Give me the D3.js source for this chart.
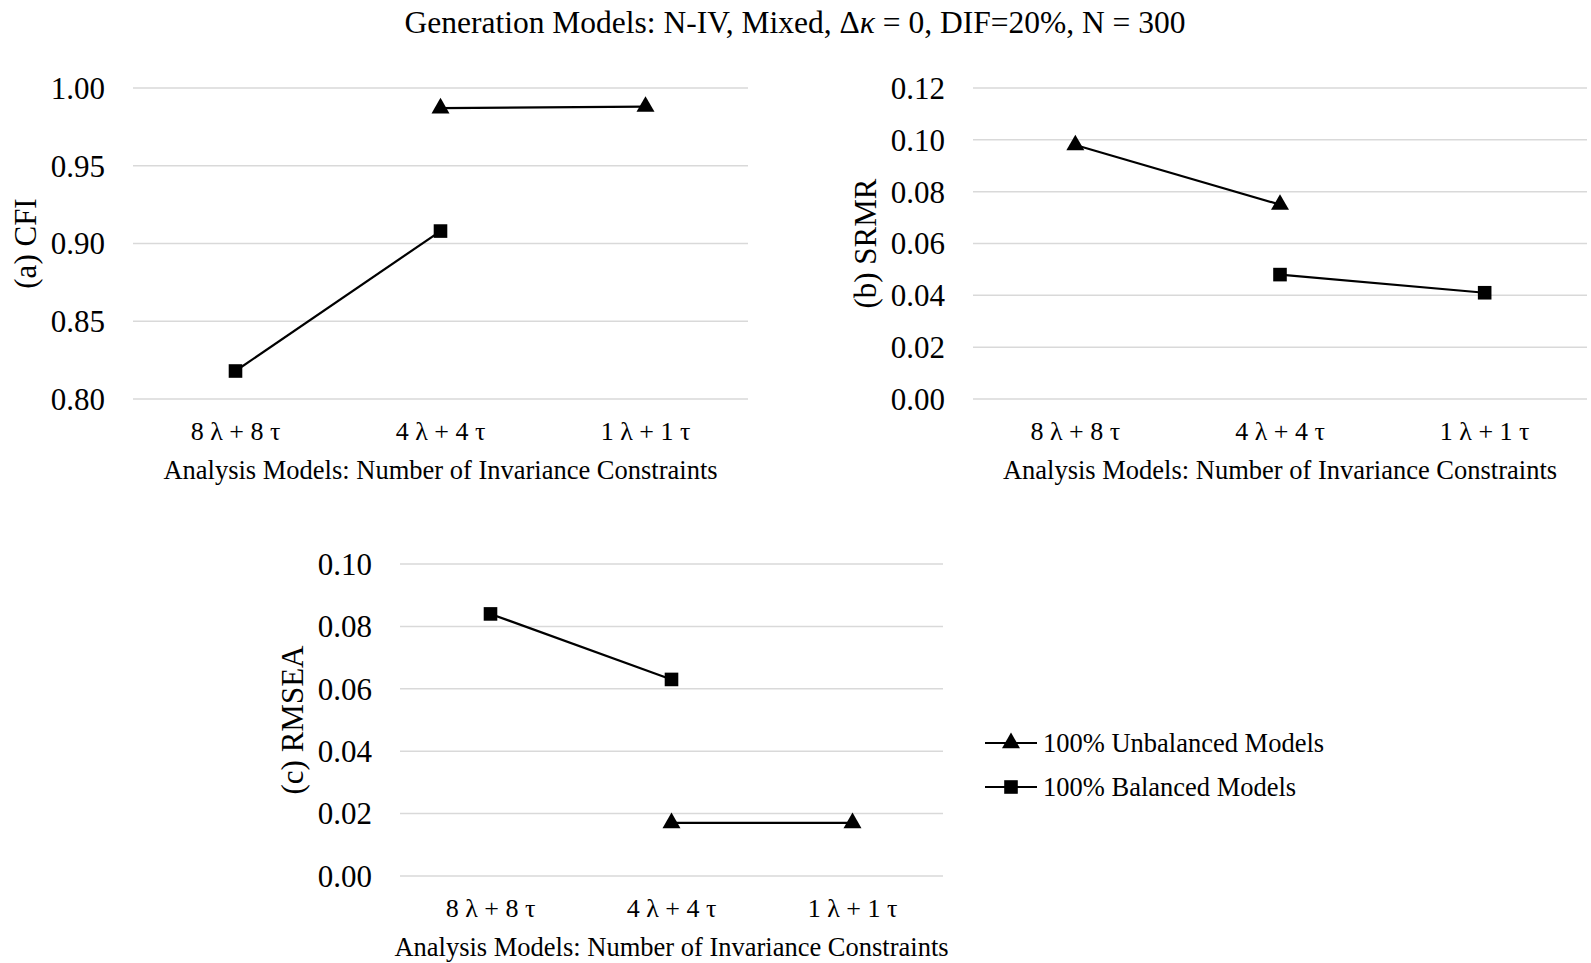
<!DOCTYPE html>
<html>
<head>
<meta charset="utf-8">
<script src="https://cdn.jsdelivr.net/npm/d3@7"></script>
<style>
  body { margin: 0; background: #fff; }
  svg { display: block; font-family: "Liberation Serif", "Times New Roman", serif; }
</style>
</head>
<body>
<svg width="1591" height="963"></svg>
<script>
// data
var categories = ["8 λ + 8 τ", "4 λ + 4 τ", "1 λ + 1 τ"];
var seriesNames = ["100% Unbalanced Models", "100% Balanced Models"];

var cfiUnbalanced = [null, 0.987, 0.988];
var cfiBalanced = [0.818, 0.908, null];
var srmrUnbalanced = [0.098, 0.075, null];
var srmrBalanced = [null, 0.048, 0.041];
var rmseaUnbalanced = [null, 0.017, 0.017];
var rmseaBalanced = [0.084, 0.063, null];

var cfiTicks = [0.80, 0.85, 0.90, 0.95, 1.00];
var srmrTicks = [0.00, 0.02, 0.04, 0.06, 0.08, 0.10, 0.12];
var rmseaTicks = [0.00, 0.02, 0.04, 0.06, 0.08, 0.10];

var titleParts = ["Generation Models: N-IV, Mixed, Δ", "κ", " = 0, DIF=20%, N = 300"];
var xTitle = "Analysis Models: Number of Invariance Constraints";

var svg = d3.select("svg");

var title = svg.append("text")
    .attr("x", 795)
    .attr("y", 22)
    .attr("dy", "0.35em")
    .attr("text-anchor", "middle")
    .style("font-size", "31.5px");
titleParts.forEach(function (t, i) {
    title.append("tspan")
        .style("font-style", i == 1 ? "italic" : "normal")
        .text(t);
});

var panels = [
    {label: "(a) CFI", x0: 133, x1: 748, y0: 88, y1: 399, ticks: cfiTicks, domain: [0.80, 1.00],
        series: [cfiUnbalanced, cfiBalanced]},
    {label: "(b) SRMR", x0: 973, x1: 1587, y0: 88, y1: 399, ticks: srmrTicks, domain: [0, 0.12],
        series: [srmrUnbalanced, srmrBalanced]},
    {label: "(c) RMSEA", x0: 400, x1: 943, y0: 564, y1: 876, ticks: rmseaTicks, domain: [0, 0.10],
        series: [rmseaUnbalanced, rmseaBalanced]}
];

var symbols = [d3.symbolTriangle, d3.symbolSquare];
var symbolSizes = [140, 185];

panels.forEach(function (p) {
    var g = svg.append("g");

    var x = d3.scaleBand().domain(categories).range([p.x0, p.x1]);
    var y = d3.scaleLinear().domain(p.domain).range([p.y1, p.y0]);

    // gridlines
    g.selectAll("line.grid")
        .data(p.ticks)
        .enter().append("line")
        .attr("class", "grid")
        .attr("x1", p.x0)
        .attr("x2", p.x1)
        .attr("y1", function (d) { return y(d); })
        .attr("y2", function (d) { return y(d); })
        .attr("stroke", "#d9d9d9")
        .attr("stroke-width", 1.5);

    // y tick labels
    g.selectAll("text.ytick")
        .data(p.ticks)
        .enter().append("text")
        .attr("class", "ytick")
        .attr("x", p.x0 - 28)
        .attr("y", function (d) { return y(d); })
        .attr("dy", "0.35em")
        .attr("text-anchor", "end")
        .style("font-size", "31px")
        .text(function (d) { return d3.format(".2f")(d); });

    // x category labels
    g.selectAll("text.xtick")
        .data(categories)
        .enter().append("text")
        .attr("class", "xtick")
        .attr("x", function (d) { return x(d) + x.bandwidth() / 2; })
        .attr("y", p.y1 + 32)
        .attr("dy", "0.35em")
        .attr("text-anchor", "middle")
        .style("font-size", "26px")
        .text(function (d) { return d; });

    g.append("text")
        .attr("x", (p.x0 + p.x1) / 2)
        .attr("y", p.y1 + 71)
        .attr("dy", "0.35em")
        .attr("text-anchor", "middle")
        .style("font-size", "26.5px")
        .text(xTitle);

    g.append("text")
        .attr("transform", "translate(" + (p.x0 - 108) + "," + ((p.y0 + p.y1) / 2) + ") rotate(-90)")
        .attr("dy", "0.35em")
        .attr("text-anchor", "middle")
        .style("font-size", "31px")
        .text(p.label);

    p.series.forEach(function (vals, si) {
        var pts = categories.map(function (c, i) { return {c: c, v: vals[i]}; });
        var line = d3.line()
            .defined(function (d) { return d.v != null; })
            .x(function (d) { return x(d.c) + x.bandwidth() / 2; })
            .y(function (d) { return y(d.v); });

        g.append("path")
            .datum(pts)
            .attr("d", line)
            .attr("fill", "none")
            .attr("stroke", "#000")
            .attr("stroke-width", 2.2);

        g.selectAll("path.m" + si)
            .data(pts.filter(function (d) { return d.v != null; }))
            .enter().append("path")
            .attr("class", "m" + si)
            .attr("transform", function (d) {
                return "translate(" + (x(d.c) + x.bandwidth() / 2) + "," + y(d.v) + ")";
            })
            .attr("d", d3.symbol().type(symbols[si]).size(symbolSizes[si]))
            .attr("fill", "#000");
    });
});

// legend
var legend = svg.append("g");
seriesNames.forEach(function (name, i) {
    var ly = 743 + i * 44;
    legend.append("line")
        .attr("x1", 985).attr("x2", 1037)
        .attr("y1", ly).attr("y2", ly)
        .attr("stroke", "#000")
        .attr("stroke-width", 2.2);
    legend.append("path")
        .attr("transform", "translate(1011," + ly + ")")
        .attr("d", d3.symbol().type(symbols[i]).size(symbolSizes[i]))
        .attr("fill", "#000");
    legend.append("text")
        .attr("x", 1043)
        .attr("y", ly)
        .attr("dy", "0.35em")
        .style("font-size", "26.5px")
        .text(name);
});
</script>
</body>
</html>
